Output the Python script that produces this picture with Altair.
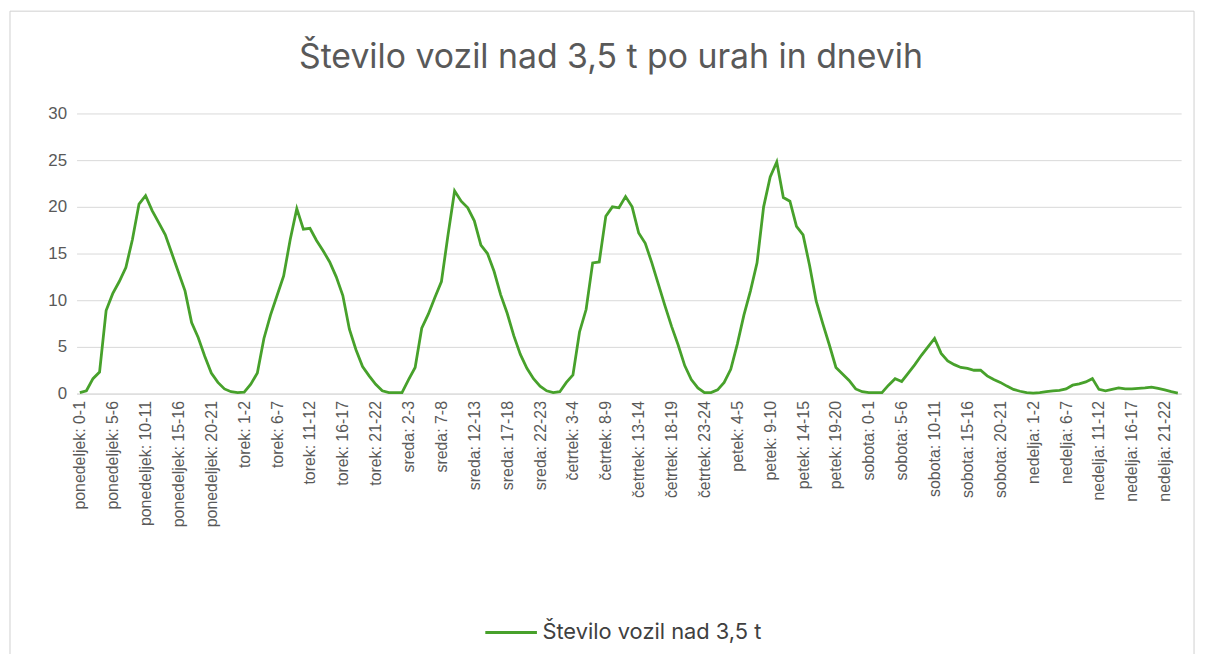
import altair as alt
import pandas as pd

days = ["ponedeljek", "torek", "sreda", "četrtek", "petek", "sobota", "nedelja"]
hours = list(range(24))

mon = [0.1, 0.3, 1.6, 2.3, 8.9, 10.7, 12.0, 13.5, 16.5, 20.3, 21.2, 19.6,
       18.3, 17.0, 15.0, 13.0, 11.0, 7.6, 6.0, 4.0, 2.2, 1.2, 0.5, 0.2]
tue = [0.1, 0.15, 1.0, 2.2, 5.9, 8.4, 10.5, 12.6, 16.5, 19.8, 17.6, 17.7,
       16.4, 15.3, 14.1, 12.5, 10.5, 6.9, 4.7, 2.9, 1.9, 1.0, 0.3, 0.1]
wed = [0.1, 0.1, 1.5, 2.8, 7.0, 8.5, 10.3, 12.0, 17.0, 21.7, 20.6, 19.9,
       18.5, 15.9, 15.0, 13.1, 10.6, 8.6, 6.2, 4.2, 2.7, 1.6, 0.8, 0.3]
thu = [0.1, 0.2, 1.2, 2.0, 6.6, 9.0, 14.0, 14.1, 19.0, 20.0, 19.9, 21.1,
       20.0, 17.2, 16.1, 14.0, 11.7, 9.4, 7.2, 5.2, 3.0, 1.5, 0.6, 0.1]
fri = [0.1, 0.4, 1.2, 2.6, 5.3, 8.4, 11.0, 14.0, 20.0, 23.2, 24.8, 21.0,
       20.6, 17.9, 17.0, 13.7, 9.9, 7.5, 5.2, 2.8, 2.1, 1.4, 0.5, 0.2]
sat = [0.1, 0.1, 0.1, 0.9, 1.6, 1.3, 2.2, 3.1, 4.1, 5.0, 5.9, 4.3,
       3.5, 3.1, 2.8, 2.7, 2.5, 2.5, 1.9, 1.5, 1.2, 0.8, 0.45, 0.25]
sun = [0.1, 0.05, 0.1, 0.2, 0.3, 0.35, 0.5, 0.9, 1.05, 1.25, 1.6, 0.45,
       0.3, 0.45, 0.6, 0.5, 0.5, 0.55, 0.6, 0.7, 0.55, 0.4, 0.2, 0.05]

series_name = "Število vozil nad 3,5 t"
title_text = "Število vozil nad 3,5 t po urah in dnevih"
y_ticks = [0, 5, 10, 15, 20, 25, 30]

values = mon + tue + wed + thu + fri + sat + sun
categories = [f"{d}: {h}-{h + 1}" for d in days for h in hours]
shown_labels = categories[::5]

df = pd.DataFrame({"kat": categories, "vrednost": values, "serija": series_name})

W, H = 1112, 282

line = alt.Chart(df).mark_line(strokeWidth=2.8, interpolate="linear").encode(
    x=alt.X("kat:N", sort=None,
            scale=alt.Scale(type="point", padding=0.5),
            axis=alt.Axis(title=None, values=shown_labels, labelAngle=270,
                          labelFontSize=16, labelColor="#595959",
                          labelFont="Liberation Sans", labelPadding=7,
                          ticks=False, domain=True, domainColor="#d9d9d9",
                          domainWidth=1, grid=False, labelOverlap=False,
                          labelLimit=300)),
    y=alt.Y("vrednost:Q",
            scale=alt.Scale(domain=[0, 30], nice=False),
            axis=alt.Axis(title=None, values=y_ticks, labelFontSize=17,
                          labelColor="#595959", labelFont="Liberation Sans",
                          labelPadding=10, ticks=False, domain=False,
                          grid=True, gridColor="#d9d9d9", gridWidth=1)),
    color=alt.Color("serija:N",
                    scale=alt.Scale(range=["#47a12b"]),
                    legend=alt.Legend(title=None, orient="none",
                                      legendX=410, legendY=495,
                                      symbolType="stroke", symbolSize=2700,
                                      symbolStrokeWidth=3, labelFontSize=22,
                                      labelColor="#404040", labelFont="Inter",
                                      labelOffset=4, labelLimit=400)),
)

frame = alt.Chart(pd.DataFrame({"a": [0]})).mark_rect(
    fill=None, stroke="#d0d0d0", strokeWidth=1
).encode(
    x=alt.value(-67), x2=alt.value(1125),
    y=alt.value(-103), y2=alt.value(560),
)

chart = alt.layer(frame, line).properties(
    width=W, height=H,
    title=alt.TitleParams(title_text, fontSize=34, font="Inter",
                          fontWeight="normal", color="#595959",
                          anchor="middle", offset=-65, dx=-18),
    autosize=alt.AutoSizeParams(type="none"),
    padding={"left": 69, "top": 104, "right": 19, "bottom": 260},
    background="white",
).configure_view(stroke=None)

chart.save("out.html", embed_options={"renderer": "svg", "actions": False})
